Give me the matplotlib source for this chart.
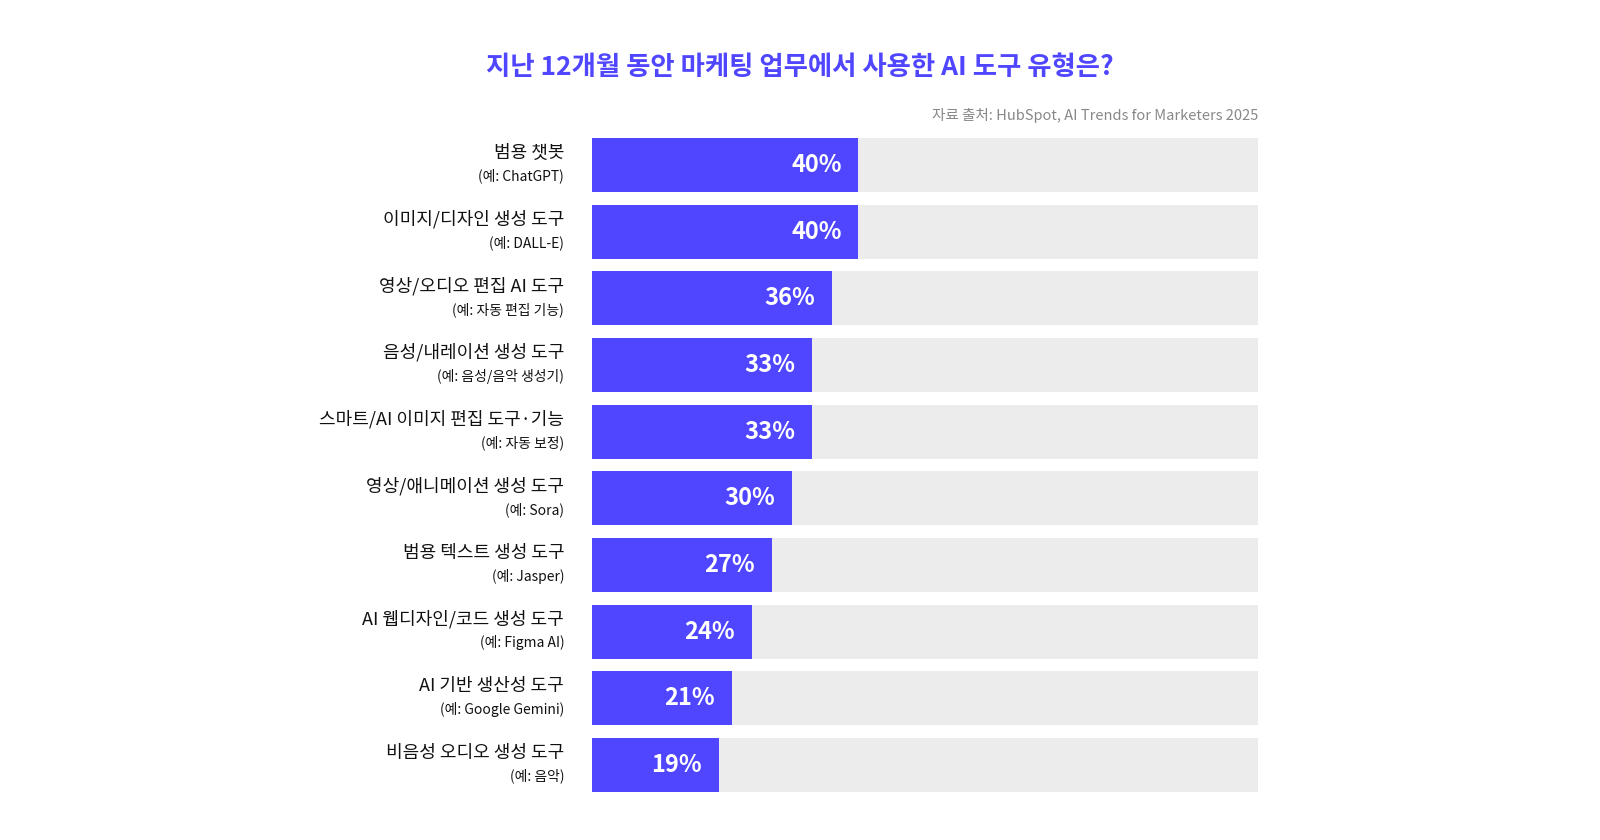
import matplotlib.pyplot as plt

plt.rcParams['font.family'] = ['Noto Sans CJK KR', 'DejaVu Sans']

# data
labels = ['범용 챗봇', '이미지/디자인 생성 도구', '영상/오디오 편집 AI 도구', '음성/내레이션 생성 도구',
          '스마트/AI 이미지 편집 도구·기능', '영상/애니메이션 생성 도구', '범용 텍스트 생성 도구',
          'AI 웹디자인/코드 생성 도구', 'AI 기반 생산성 도구', '비음성 오디오 생성 도구']
examples = ['(예: ChatGPT)', '(예: DALL-E)', '(예: 자동 편집 기능)', '(예: 음성/음악 생성기)',
            '(예: 자동 보정)', '(예: Sora)', '(예: Jasper)', '(예: Figma AI)',
            '(예: Google Gemini)', '(예: 음악)']
values = [40, 40, 36, 33, 33, 30, 27, 24, 21, 19]

accent = '#5046FF'
fig = plt.figure(figsize=(16, 8.4), dpi=100)
ax = fig.add_axes([0.37, 0.0571, 0.41625, 0.7786])
y = list(range(len(values)))
ax.barh(y, [100] * len(values), height=0.81, color='#ECECEC')
ax.barh(y, values, height=0.81, color=accent)
ax.set_xlim(0, 100)
ax.set_ylim(len(values) - 0.595, -0.405)
ax.axis('off')

for i, (lab, ex, v) in enumerate(zip(labels, examples, values)):
    ax.text(v - 2.5, i, f'{v}%', ha='right', va='center', color='white',
            fontsize=17, fontweight='bold')
    ax.annotate(lab, xy=(0, i), xytext=(-20, 9), textcoords='offset points',
                ha='right', va='center', fontsize=13, color='#111111')
    ax.annotate(ex, xy=(0, i), xytext=(-20, -8), textcoords='offset points',
                ha='right', va='center', fontsize=10, color='#111111')

fig.text(0.5, 0.92, '지난 12개월 동안 마케팅 업무에서 사용한 AI 도구 유형은?',
         ha='center', va='center', fontsize=19, fontweight='bold', color=accent)
fig.text(0.78625, 0.862, '자료 출처: HubSpot, AI Trends for Marketers 2025',
         ha='right', va='center', fontsize=10.5, color='#888888')

plt.savefig('out.png', dpi=100)
